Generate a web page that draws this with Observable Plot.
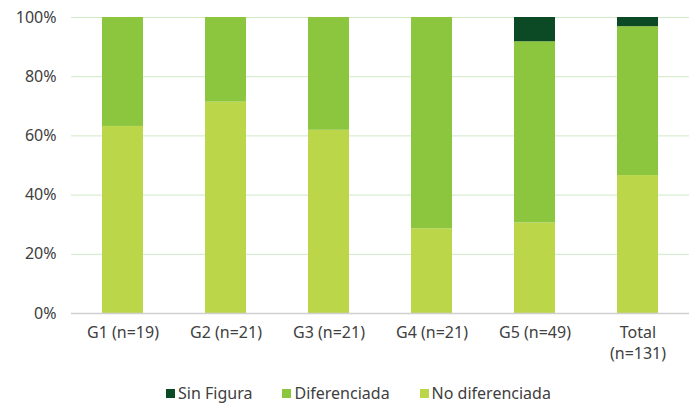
<!DOCTYPE html>
<html>
<head>
<meta charset="utf-8">
<script src="https://cdn.jsdelivr.net/npm/d3@7"></script>
<script src="https://cdn.jsdelivr.net/npm/@observablehq/plot@0.6"></script>
<style>
  html, body { margin: 0; padding: 0; background: #fff; }
  body { width: 693px; height: 403px; overflow: hidden; font-family: "Noto Sans", Lato, sans-serif; }
  #legend { display: flex; justify-content: center; gap: 30px; font-size: 16px; color: #404040; margin-top: 10px; margin-left: 24px; }
  #legend span.item { display: flex; align-items: center; }
  #legend span.sw { display: inline-block; width: 9px; height: 9px; margin-right: 3px; }
</style>
</head>
<body>
<div id="chart"></div>
<div id="legend"></div>
<script>
const groups = ["G1 (n=19)", "G2 (n=21)", "G3 (n=21)", "G4 (n=21)", "G5 (n=49)", "Total\n(n=131)"];
const series = ["No diferenciada", "Diferenciada", "Sin Figura"];
const noDiferenciada = [63.2, 71.4, 61.9, 28.6, 30.6, 46.6];
const diferenciada   = [36.8, 28.6, 38.1, 71.4, 61.2, 50.3];
const sinFigura      = [0, 0, 0, 0, 8.2, 3.1];
const yTicks = [0, 20, 40, 60, 80, 100];
const colors = ["#bcd64a", "#8cc63f", "#0b4a24"];
const legendOrder = ["Sin Figura", "Diferenciada", "No diferenciada"];

const seriesValues = [noDiferenciada, diferenciada, sinFigura];
const data = [];
series.forEach((s, si) => groups.forEach((g, gi) => data.push({group: g, series: s, value: seriesValues[si][gi]})));

const chart = Plot.plot({
  width: 693,
  height: 372,
  marginLeft: 71,
  marginRight: 4,
  marginTop: 17,
  marginBottom: 59,
  style: {fontFamily: "'Noto Sans', Lato, sans-serif", fontSize: "16px", color: "#404040", background: "#fff"},
  x: {domain: groups, paddingInner: 0.6, paddingOuter: 0.3, label: null, tickSize: 0, tickPadding: 10},
  y: {domain: [0, 100], ticks: yTicks, label: null, tickSize: 0, tickPadding: 15, tickFormat: d => d + "%"},
  color: {domain: series, range: colors},
  marks: [
    Plot.gridY(yTicks, {stroke: "#cfe8c6", strokeOpacity: 1, strokeWidth: 1}),
    Plot.barY(data, Plot.stackY({order: series}, {x: "group", y: "value", z: "series", fill: "series"})),
    Plot.ruleY([0], {stroke: "#d0d0d0", strokeWidth: 1.5}),
    Plot.axisX({tickSize: 0, tickPadding: 10, fontSize: 16, lineHeight: 1.3}),
    Plot.axisY({ticks: yTicks, tickSize: 0, tickPadding: 15, tickFormat: d => d + "%", fontSize: 16})
  ]
});
document.getElementById("chart").appendChild(chart);

const legend = document.getElementById("legend");
legendOrder.forEach(name => {
  const item = document.createElement("span");
  item.className = "item";
  const sw = document.createElement("span");
  sw.className = "sw";
  sw.style.background = colors[series.indexOf(name)];
  item.appendChild(sw);
  item.appendChild(document.createTextNode(name));
  legend.appendChild(item);
});
</script>
</body>
</html>
